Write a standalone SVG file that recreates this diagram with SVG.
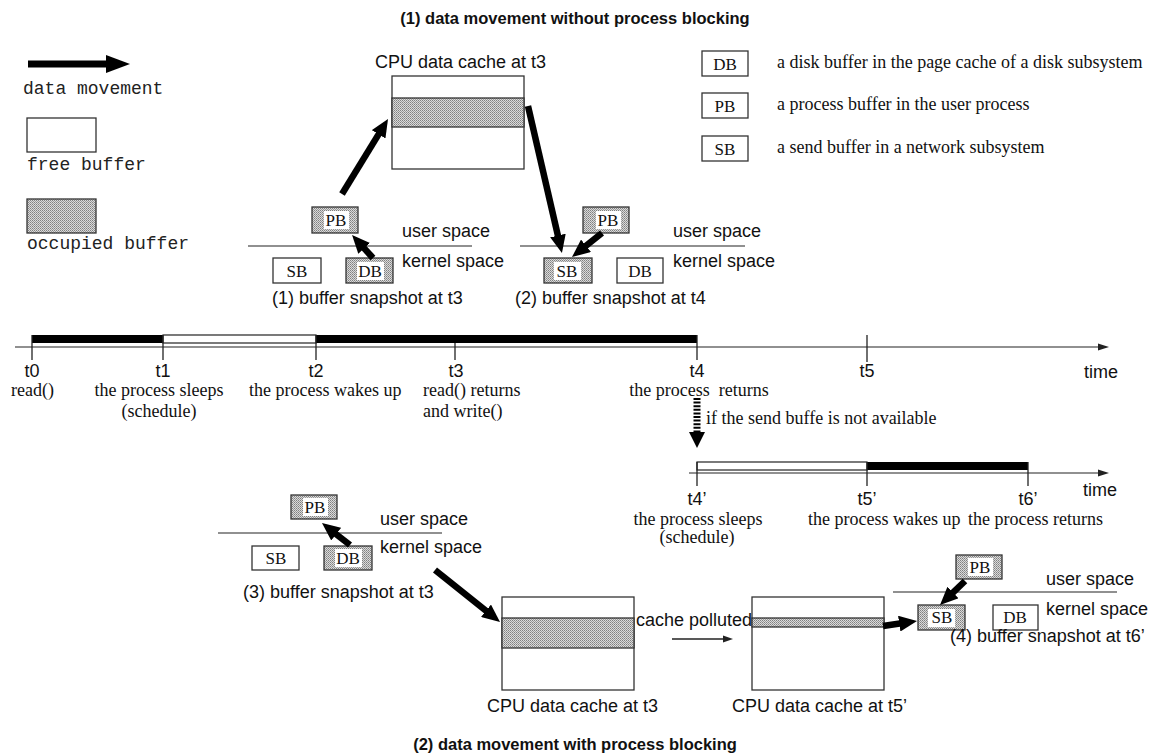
<svg xmlns="http://www.w3.org/2000/svg" width="1151" height="756" viewBox="0 0 1151 756">
  <defs>
    <!-- fine grey dot screen used for occupied buffers -->
    <pattern id="dots" width="2" height="2" patternUnits="userSpaceOnUse">
      <rect width="2" height="2" fill="#dadada"/>
      <rect width="1" height="1" fill="#808080"/>
      <rect x="1" y="1" width="1" height="1" fill="#9a9a9a"/>
    </pattern>
    <marker id="head" markerUnits="userSpaceOnUse" markerWidth="18" markerHeight="16" refX="4" refY="8" orient="auto">
      <path d="M0,0 L18,8 L0,16 z" fill="#000"/>
    </marker>
    <style>
      .sans { font-family: "Liberation Sans", Arial, sans-serif; font-size: 18px; fill: #111; }
      .serif { font-family: "Liberation Serif", "Times New Roman", serif; font-size: 18px; fill: #111; }
      .mono { font-family: "Liberation Mono", "Courier New", monospace; font-size: 18px; fill: #222; }
      .title { font-family: "Liberation Sans", Arial, sans-serif; font-size: 16.5px; font-weight: bold; fill: #111; }
      .lbl { font-family: "Liberation Serif", "Times New Roman", serif; font-size: 17px; fill: #111; }
      .free { fill: #fff; stroke: #333; stroke-width: 1.3; }
      .occ { fill: url(#dots); stroke: #333; stroke-width: 1.3; }
      .hole { fill: #fff; }
      .rule { stroke: #222; stroke-width: 1.2; fill: none; }
      .tick { stroke: #222; stroke-width: 1.3; }
      .move { stroke: #000; stroke-width: 6.5; fill: none; marker-end: url(#head); }
    </style>
  </defs>

  <!-- titles -->
  <text class="title" x="575" y="24" text-anchor="middle">(1) data movement without process blocking</text>
  <text class="title" x="575" y="750" text-anchor="middle">(2) data movement with process blocking</text>

  <!-- key on the left -->
  <g id="key-left">
    <rect x="28" y="60.5" width="80" height="7" fill="#000"/>
    <polygon points="106,55 130,64 106,73" fill="#000"/>
    <text class="mono" x="23" y="94">data movement</text>
    <rect class="free" x="27" y="118" width="69" height="34"/>
    <text class="mono" x="27" y="170">free buffer</text>
    <rect class="occ" x="27" y="199" width="69" height="34"/>
    <text class="mono" x="27" y="249">occupied buffer</text>
  </g>

  <!-- key on the right -->
  <g id="key-right">
    <rect class="free" x="702" y="51" width="46" height="25"/>
    <text class="lbl" x="725" y="70" text-anchor="middle">DB</text>
    <text class="serif" x="777" y="68">a disk buffer in the page cache of a disk subsystem</text>
    <rect class="free" x="702" y="93" width="46" height="25"/>
    <text class="lbl" x="725" y="112" text-anchor="middle">PB</text>
    <text class="serif" x="777" y="110">a process buffer in the user process</text>
    <rect class="free" x="702" y="136" width="46" height="25"/>
    <text class="lbl" x="725" y="155" text-anchor="middle">SB</text>
    <text class="serif" x="777" y="153">a send buffer in a network subsystem</text>
  </g>

  <!-- CPU cache, upper half -->
  <g id="cache-top">
    <text class="sans" x="375" y="68">CPU data cache at t3</text>
    <rect class="free" x="392" y="76" width="132" height="93"/>
    <rect class="occ" x="392" y="98" width="132" height="29"/>
  </g>

  <!-- snapshot (1) at t3 -->
  <g id="snap1">
    <line class="rule" x1="248" y1="246" x2="472" y2="246"/>
    <rect class="occ" x="312" y="207" width="46" height="26"/>
    <rect class="hole" x="324" y="211" width="25" height="18"/>
    <text class="lbl" x="336" y="226" text-anchor="middle">PB</text>
    <rect class="free" x="273" y="258" width="48" height="25"/>
    <text class="lbl" x="297" y="277" text-anchor="middle">SB</text>
    <rect class="occ" x="346" y="258" width="47" height="25"/>
    <rect class="hole" x="357" y="262" width="27" height="18"/>
    <text class="lbl" x="370" y="277" text-anchor="middle">DB</text>
    <text class="sans" x="402" y="237">user space</text>
    <text class="sans" x="402" y="267">kernel space</text>
    <text class="sans" x="272" y="304">(1) buffer snapshot at t3</text>
  </g>

  <!-- snapshot (2) at t4 -->
  <g id="snap2">
    <line class="rule" x1="520" y1="246" x2="745" y2="246"/>
    <rect class="occ" x="583" y="207" width="46" height="26"/>
    <rect class="hole" x="596" y="211" width="25" height="18"/>
    <text class="lbl" x="608" y="226" text-anchor="middle">PB</text>
    <rect class="occ" x="544" y="258" width="48" height="25"/>
    <rect class="hole" x="554" y="262" width="27" height="18"/>
    <text class="lbl" x="567" y="277" text-anchor="middle">SB</text>
    <rect class="free" x="617" y="258" width="46" height="25"/>
    <text class="lbl" x="640" y="277" text-anchor="middle">DB</text>
    <text class="sans" x="673" y="237">user space</text>
    <text class="sans" x="673" y="267">kernel space</text>
    <text class="sans" x="515" y="304">(2) buffer snapshot at t4</text>
  </g>

  <!-- timeline without blocking -->
  <g id="timeline1">
    <line class="rule" x1="15" y1="347" x2="1100" y2="347"/>
    <polygon points="1098,343.5 1109,347 1098,350.5" fill="#222"/>
    <rect x="32" y="335" width="131" height="8" fill="#000"/>
    <rect x="163" y="335" width="153" height="8" fill="#fff" stroke="#222" stroke-width="1.2"/>
    <rect x="316" y="335" width="381" height="8" fill="#000"/>
    <line class="tick" x1="32" y1="335" x2="32" y2="360"/>
    <line class="tick" x1="163" y1="335" x2="163" y2="360"/>
    <line class="tick" x1="316" y1="335" x2="316" y2="360"/>
    <line class="tick" x1="455" y1="343" x2="455" y2="360"/>
    <line class="tick" x1="697" y1="335" x2="697" y2="360"/>
    <line class="tick" x1="867" y1="335" x2="867" y2="362"/>
    <text class="sans" x="32" y="377" text-anchor="middle">t0</text>
    <text class="sans" x="163" y="377" text-anchor="middle">t1</text>
    <text class="sans" x="316" y="377" text-anchor="middle">t2</text>
    <text class="sans" x="456" y="377" text-anchor="middle">t3</text>
    <text class="sans" x="697" y="377" text-anchor="middle">t4</text>
    <text class="sans" x="867" y="377" text-anchor="middle">t5</text>
    <text class="sans" x="1084" y="378">time</text>
    <text class="serif" x="11" y="396">read()</text>
    <text class="serif" x="159" y="396" text-anchor="middle">the process sleeps</text>
    <text class="serif" x="159" y="417" text-anchor="middle">(schedule)</text>
    <text class="serif" x="249" y="396">the process wakes up</text>
    <text class="serif" x="423" y="396">read() returns</text>
    <text class="serif" x="423" y="417">and write()</text>
    <text class="serif" x="699" y="396" text-anchor="middle" xml:space="preserve">the process  returns</text>
  </g>

  <!-- branch to the blocking case -->
  <g id="branch">
    <line x1="697" y1="398" x2="697" y2="433" stroke="#000" stroke-width="7" stroke-dasharray="2 1.6"/>
    <polygon points="689,432 705,432 697,448" fill="#000"/>
    <text class="serif" x="706" y="424">if the send buffe is not available</text>
  </g>

  <!-- timeline with blocking -->
  <g id="timeline2">
    <line class="rule" x1="689" y1="473" x2="1100" y2="473"/>
    <polygon points="1098,469.5 1109,473 1098,476.5" fill="#222"/>
    <rect x="697" y="462" width="170" height="8" fill="#fff" stroke="#222" stroke-width="1.2"/>
    <rect x="867" y="462" width="161" height="8" fill="#000"/>
    <line class="tick" x1="697" y1="462" x2="697" y2="486"/>
    <line class="tick" x1="867" y1="462" x2="867" y2="486"/>
    <line class="tick" x1="1028" y1="462" x2="1028" y2="486"/>
    <text class="sans" x="697" y="505" text-anchor="middle">t4’</text>
    <text class="sans" x="867" y="505" text-anchor="middle">t5’</text>
    <text class="sans" x="1028" y="505" text-anchor="middle">t6’</text>
    <text class="sans" x="1083" y="496">time</text>
    <text class="serif" x="698" y="525" text-anchor="middle">the process sleeps</text>
    <text class="serif" x="697" y="543" text-anchor="middle">(schedule)</text>
    <text class="serif" x="808" y="525">the process wakes up</text>
    <text class="serif" x="1103" y="525" text-anchor="end">the process returns</text>
  </g>

  <!-- snapshot (3) at t3 -->
  <g id="snap3">
    <line class="rule" x1="218" y1="533" x2="442" y2="533"/>
    <rect class="occ" x="291" y="495" width="46" height="24"/>
    <rect class="hole" x="303" y="498" width="25" height="18"/>
    <text class="lbl" x="315" y="513" text-anchor="middle">PB</text>
    <rect class="free" x="252" y="546" width="47" height="24"/>
    <text class="lbl" x="276" y="564" text-anchor="middle">SB</text>
    <rect class="occ" x="324" y="546" width="48" height="24"/>
    <rect class="hole" x="335" y="549" width="27" height="18"/>
    <text class="lbl" x="348" y="564" text-anchor="middle">DB</text>
    <text class="sans" x="380" y="525">user space</text>
    <text class="sans" x="380" y="553">kernel space</text>
    <text class="sans" x="243" y="598">(3) buffer snapshot at t3</text>
  </g>

  <!-- CPU cache at t3, lower half -->
  <g id="cache-t3">
    <rect class="free" x="502" y="597" width="132" height="93"/>
    <rect class="occ" x="502" y="618" width="132" height="30"/>
    <text class="sans" x="487" y="712">CPU data cache at t3</text>
  </g>

  <!-- pollution between the two cache states -->
  <g id="pollution">
    <text class="sans" x="636" y="626">cache polluted</text>
    <line x1="672" y1="639" x2="725" y2="639" stroke="#222" stroke-width="1.3"/>
    <polygon points="723,635.5 733,639 723,642.5" fill="#222"/>
  </g>

  <!-- CPU cache at t5' -->
  <g id="cache-t5">
    <rect class="free" x="752" y="597" width="132" height="93"/>
    <rect class="occ" x="752" y="618" width="132" height="9"/>
    <text class="sans" x="732" y="712">CPU data cache at t5’</text>
  </g>

  <!-- snapshot (4) at t6' -->
  <g id="snap4">
    <line class="rule" x1="893" y1="592" x2="1117" y2="592"/>
    <rect class="occ" x="956" y="555" width="46" height="24"/>
    <rect class="hole" x="968" y="558" width="25" height="18"/>
    <text class="lbl" x="980" y="573" text-anchor="middle">PB</text>
    <rect class="occ" x="918" y="605" width="47" height="25"/>
    <rect class="hole" x="928" y="609" width="27" height="18"/>
    <text class="lbl" x="942" y="623" text-anchor="middle">SB</text>
    <rect class="free" x="993" y="605" width="45" height="25"/>
    <text class="lbl" x="1015" y="623" text-anchor="middle">DB</text>
    <text class="sans" x="1046" y="585">user space</text>
    <text class="sans" x="1046" y="615">kernel space</text>
    <text class="sans" x="950" y="642">(4) buffer snapshot at t6’</text>
  </g>

  <!-- data movement arrows -->
  <g id="connectors">
    <line class="move" x1="342" y1="194" x2="380.7" y2="130.9"/>
    <line class="move" x1="528" y1="106" x2="558.8" y2="239.4"/>
    <line class="move" x1="602" y1="233" x2="582.9" y2="248.3"/>
    <line class="move" x1="373" y1="258" x2="361.5" y2="245.4"/>
    <line class="move" x1="350" y1="545" x2="333" y2="531.7"/>
    <line class="move" x1="435" y1="570" x2="489.1" y2="613.3"/>
    <line class="move" x1="883" y1="626" x2="903.2" y2="623"/>
    <line class="move" x1="965" y1="581" x2="950.1" y2="595.3"/>
  </g>
</svg>
